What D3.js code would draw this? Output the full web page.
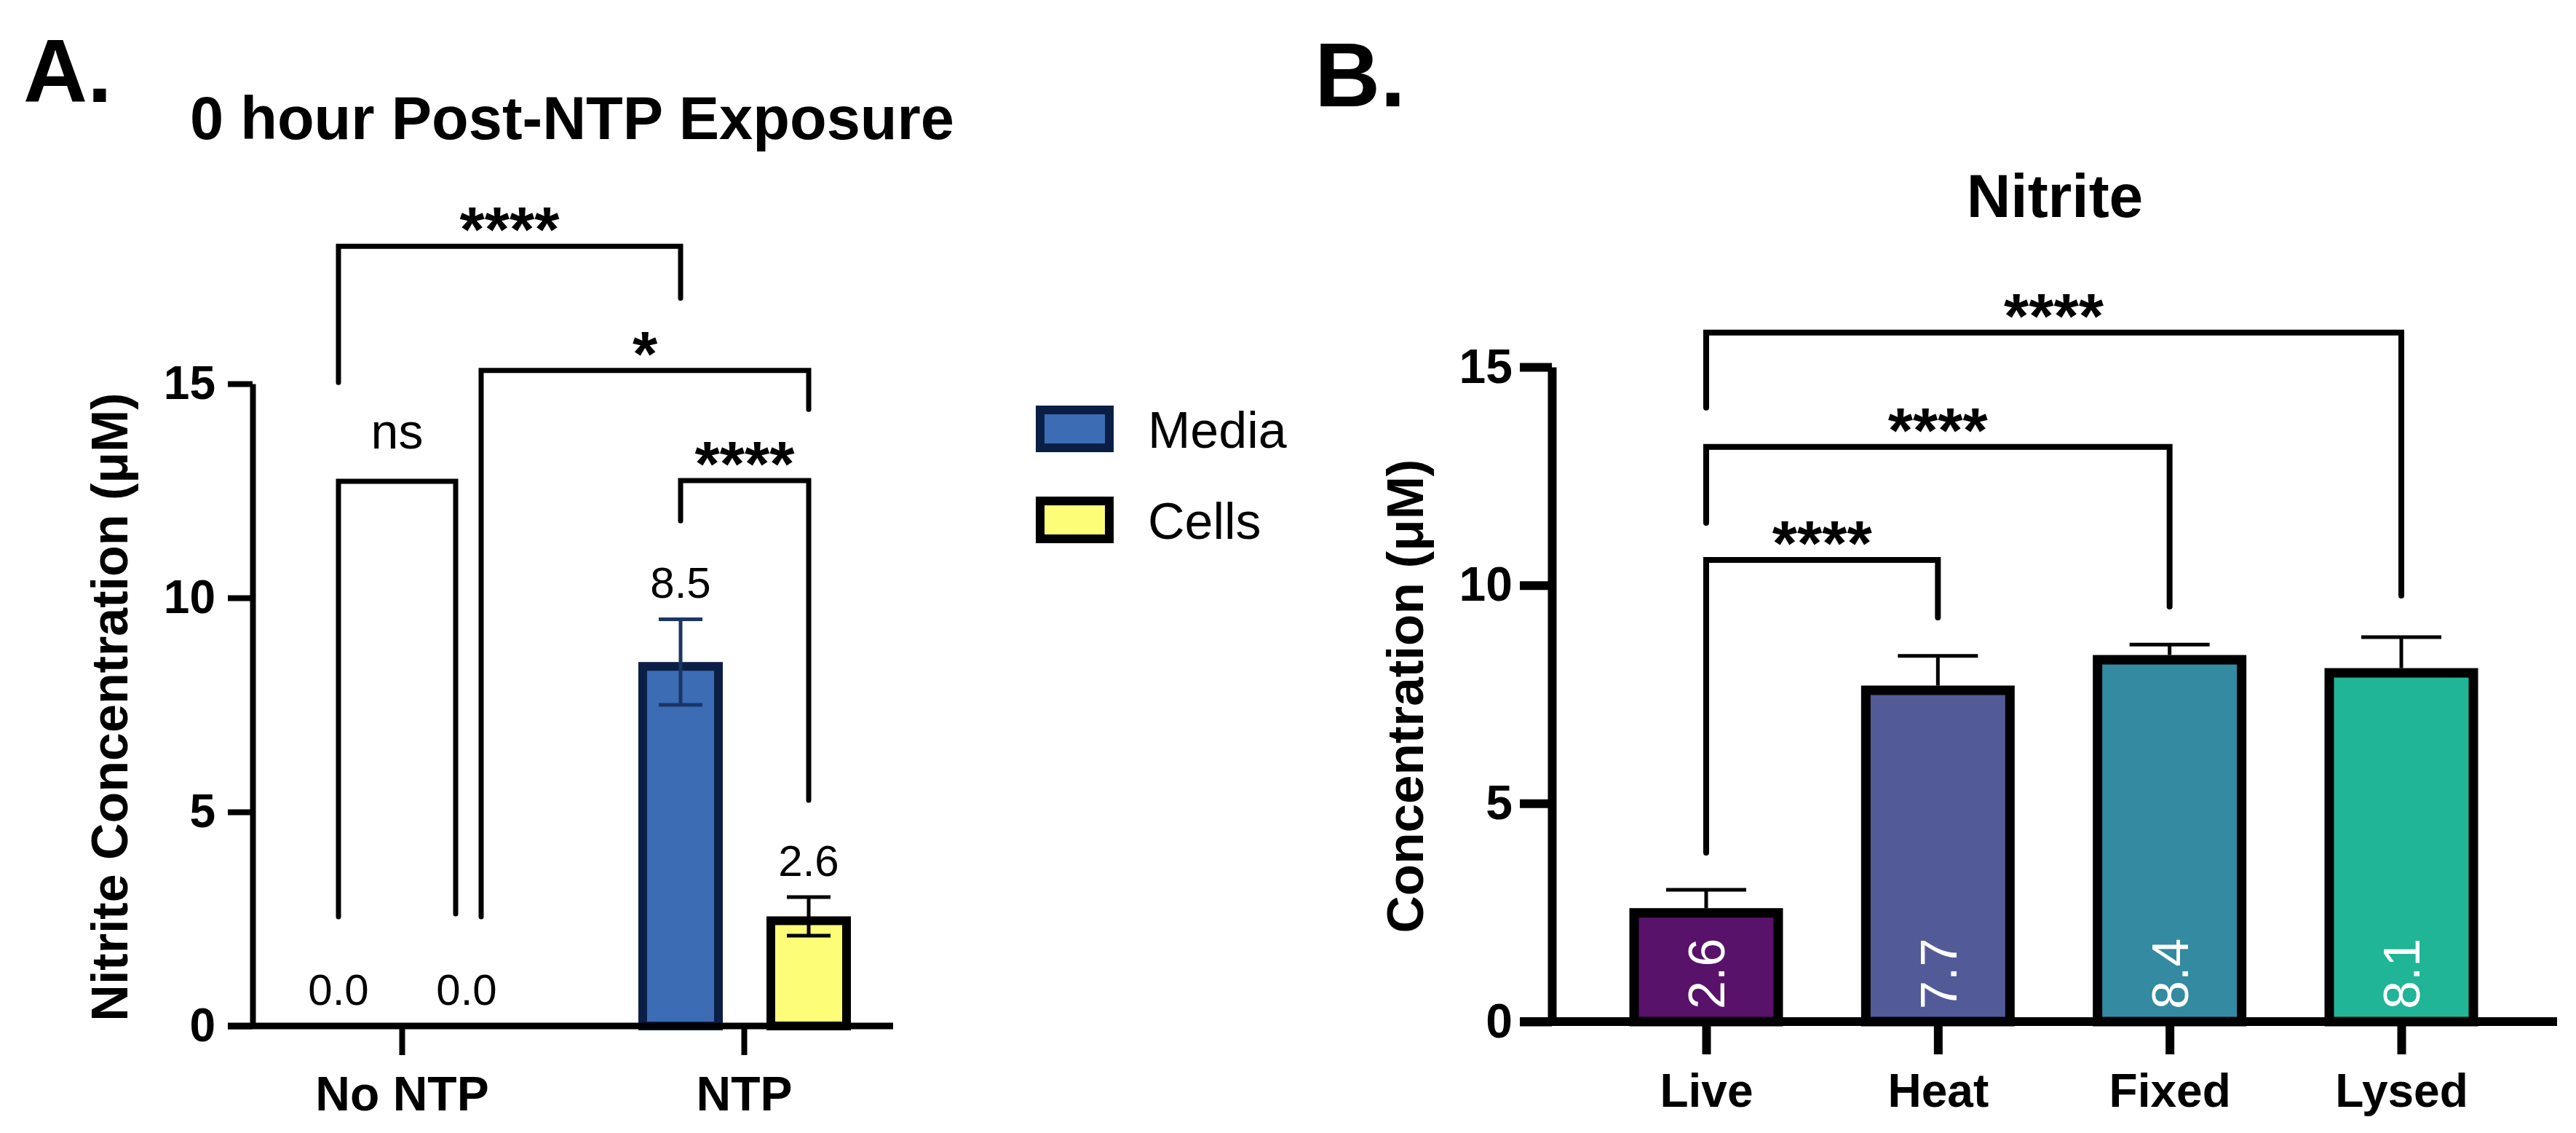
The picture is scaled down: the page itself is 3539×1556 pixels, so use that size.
<!DOCTYPE html>
<html>
<head>
<meta charset="utf-8">
<script src="https://cdn.jsdelivr.net/npm/d3@7"></script>
<style>
body { margin: 0; background: #fff; }
text { font-family: 'Liberation Sans', Arial, Helvetica, sans-serif; }
</style>
</head>
<body>
<div id="chart"></div>
<script>
// ---- panel A data ----
const groupsA = ["No NTP", "NTP"]
const seriesA = ["Media", "Cells"]
const mediaMean = [0.0, 8.5]
const mediaSD = [0, 1.0]
const cellsMean = [0.0, 2.56]
const cellsSD = [0, 0.45]
const ticksA = [0, 5, 10, 15]

// ---- panel B data ----
const catsB = ["Live", "Heat", "Fixed", "Lysed"]
const meanB = [2.6, 7.7, 8.4, 8.1]
const sdB = [0.42, 0.68, 0.24, 0.71]
const ticksB = [0, 5, 10, 15]

// significance brackets (level / ends in data units)
const sigA = [
  {a: ["No NTP", "Media", 0], b: ["NTP", "Media", 0], level: 18.21, endA: 15.03, endB: 17.0, label: "****"},
  {a: ["No NTP", "Cells", 20], b: ["NTP", "Cells", 0], level: 15.31, endA: 2.55, endB: 14.4, label: "*"},
  {a: ["No NTP", "Media", 0], b: ["No NTP", "Cells", -15], level: 12.72, endA: 2.55, endB: 2.62, label: "ns"},
  {a: ["NTP", "Media", 0], b: ["NTP", "Cells", 0], level: 12.74, endA: 11.8, endB: 5.27, label: "****"}
]
const sigB = [
  {a: "Live", b: "Heat", level: 10.58, endA: 3.87, endB: 9.26, label: "****"},
  {a: "Live", b: "Fixed", level: 13.17, endA: 11.43, endB: 9.51, label: "****"},
  {a: "Live", b: "Lysed", level: 15.79, endA: 14.07, endB: 9.76, label: "****"}
]

const colorsA = {Media: "#3c6cb4", Cells: "#fefd78"}
const strokeA = {Media: "#0b1f46", Cells: "#000"}
const colorsB = ["#58126a", "#535a98", "#348aa0", "#20b596"]

const W = 3539, H = 1556
const svg = d3.select("#chart").append("svg").attr("width", W).attr("height", H)

function styleAxis(g, sw, fs, bold) {
  g.select(".domain").attr("stroke", "#000").attr("stroke-width", sw)
  g.selectAll(".tick line").attr("stroke", "#000").attr("stroke-width", sw)
  g.selectAll(".tick text").attr("fill", "#000").style("font-size", fs + "px")
    .style("font-weight", bold ? "bold" : "normal")
    .style("font-family", "'Liberation Sans', Arial, sans-serif")
}

function bracket(g, xa, xb, yl, ya, yb, sw) {
  g.append("path")
    .attr("d", `M${xa},${ya} V${yl} H${xb} V${yb}`)
    .attr("fill", "none").attr("stroke", "#000").attr("stroke-width", sw)
    .attr("stroke-linejoin", "miter").attr("stroke-linecap", "round")
}

function sigText(g, x, yLine, label) {
  if (label === "ns") {
    g.append("text").attr("x", x).attr("y", yLine - 45).attr("text-anchor", "middle")
      .style("font-size", "68px").text(label)
  } else {
    // asterisk glyph centre sits about 0.58em above baseline
    g.append("text").attr("x", x).attr("y", yLine - 44 + 0.58 * 88).attr("text-anchor", "middle")
      .style("font-size", "88px").style("font-weight", "bold").text(label)
  }
}

// ================= PANEL A =================
const gA = svg.append("g")
const yA = d3.scaleLinear().domain([0, 15]).range([1409, 527])
const xA = d3.scalePoint().domain(groupsA).range([552, 1022])
const xSub = d3.scalePoint().domain(seriesA).range([-87, 89])
const posA = (grp, s) => xA(grp) + xSub(s)

gA.append("text").attr("x", 32).attr("y", 140).style("font-size", "122px").style("font-weight", "bold").text("A.")
gA.append("text").attr("x", 261).attr("y", 191).style("font-size", "83px").style("font-weight", "bold")
  .text("0 hour Post-NTP Exposure")

gA.append("text").attr("transform", "translate(175,971) rotate(-90)").attr("text-anchor", "middle")
  .style("font-size", "70px").style("font-weight", "bold").text("Nitrite Concentration (μM)")

const barsA = []
groupsA.forEach((grp, i) => {
  barsA.push({grp, s: "Media", m: mediaMean[i], sd: mediaSD[i]})
  barsA.push({grp, s: "Cells", m: cellsMean[i], sd: cellsSD[i]})
})
const swA = 12, bwA = 116
gA.selectAll("rect.bar").data(barsA.filter(d => d.m > 0)).enter().append("rect")
  .attr("class", "bar")
  .attr("x", d => posA(d.grp, d.s) - bwA / 2 + swA / 2)
  .attr("y", d => yA(d.m) + swA / 2)
  .attr("width", bwA - swA)
  .attr("height", d => yA(0) - yA(d.m) - swA / 2)
  .attr("fill", d => colorsA[d.s]).attr("stroke", d => strokeA[d.s]).attr("stroke-width", swA)

const errA = gA.selectAll("g.err").data(barsA.filter(d => d.sd > 0)).enter().append("g")
  .attr("stroke", d => d.s === "Media" ? "#1b3564" : "#000").attr("stroke-width", 5)
errA.append("line").attr("x1", d => posA(d.grp, d.s)).attr("x2", d => posA(d.grp, d.s))
  .attr("y1", d => yA(d.m - d.sd)).attr("y2", d => yA(d.m + d.sd))
errA.append("line").attr("x1", d => posA(d.grp, d.s) - 30).attr("x2", d => posA(d.grp, d.s) + 30)
  .attr("y1", d => yA(d.m + d.sd)).attr("y2", d => yA(d.m + d.sd))
errA.append("line").attr("x1", d => posA(d.grp, d.s) - 30).attr("x2", d => posA(d.grp, d.s) + 30)
  .attr("y1", d => yA(d.m - d.sd)).attr("y2", d => yA(d.m - d.sd))

gA.selectAll("text.val").data(barsA).enter().append("text")
  .attr("x", d => posA(d.grp, d.s)).attr("y", d => yA(d.m + d.sd) - 29)
  .attr("text-anchor", "middle").style("font-size", "60px").text(d => d.m.toFixed(1))

const yAxisA = gA.append("g").attr("transform", "translate(347,0)")
  .call(d3.axisLeft(yA).tickValues(ticksA).tickSize(34).tickSizeOuter(0).tickPadding(17))
styleAxis(yAxisA, 8, 64, true)

const xAxisA = gA.append("g").attr("transform", `translate(0,${yA(0)})`)
  .call(d3.axisBottom(xA).tickSize(40).tickSizeOuter(0).tickPadding(29))
styleAxis(xAxisA, 8, 66, true)
xAxisA.select(".domain").remove()
xAxisA.append("line").attr("x1", 313).attr("x2", 1227).attr("stroke", "#000").attr("stroke-width", 9)

sigA.forEach(s => {
  const xa = posA(s.a[0], s.a[1]) + s.a[2]
  const xb = posA(s.b[0], s.b[1]) + s.b[2]
  bracket(gA, xa, xb, yA(s.level), yA(s.endA), yA(s.endB), 7)
  sigText(gA, (xa + xb) / 2, yA(s.level), s.label)
})

// legend
const leg = gA.selectAll("g.leg").data(seriesA).enter().append("g")
  .attr("transform", (d, i) => `translate(1423,${557 + i * 125})`)
leg.append("rect").attr("x", 6).attr("y", 6).attr("width", 95).attr("height", 52)
  .attr("fill", d => colorsA[d]).attr("stroke", d => strokeA[d]).attr("stroke-width", 12)
leg.append("text").attr("x", 154).attr("y", 58).style("font-size", "70px").text(d => d)

// ================= PANEL B =================
const gB = svg.append("g")
const yB = d3.scaleLinear().domain([0, 15]).range([1403, 504])
const xB = d3.scalePoint().domain(catsB).range([2344, 3299])

gB.append("text").attr("x", 1806).attr("y", 146).style("font-size", "125px").style("font-weight", "bold").text("B.")
gB.append("text").attr("x", 2823).attr("y", 298).attr("text-anchor", "middle")
  .style("font-size", "84px").style("font-weight", "bold").text("Nitrite")
gB.append("text").attr("transform", "translate(1955,956) rotate(-90)").attr("text-anchor", "middle")
  .style("font-size", "71px").style("font-weight", "bold").text("Concentration (μM)")

const dataB = catsB.map((c, i) => ({c, m: meanB[i], sd: sdB[i], col: colorsB[i]}))
const swB = 13, bwB = 211

const errB = gB.selectAll("g.err").data(dataB).enter().append("g").attr("stroke", "#000").attr("stroke-width", 5)
errB.append("line").attr("x1", d => xB(d.c)).attr("x2", d => xB(d.c))
  .attr("y1", d => yB(d.m)).attr("y2", d => yB(d.m + d.sd))
errB.append("line").attr("x1", d => xB(d.c) - 55).attr("x2", d => xB(d.c) + 55)
  .attr("y1", d => yB(d.m + d.sd)).attr("y2", d => yB(d.m + d.sd))

gB.selectAll("rect.bar").data(dataB).enter().append("rect")
  .attr("x", d => xB(d.c) - bwB / 2 + swB / 2)
  .attr("y", d => yB(d.m) + swB / 2)
  .attr("width", bwB - swB)
  .attr("height", d => yB(0) - yB(d.m) - swB / 2)
  .attr("fill", d => d.col).attr("stroke", "#000").attr("stroke-width", swB)

gB.selectAll("text.val").data(dataB).enter().append("text")
  .attr("transform", d => `translate(${xB(d.c)},${yB(0) - 17}) rotate(-90)`)
  .attr("dy", "0.36em").attr("fill", "#fff").style("font-size", "70px").text(d => d.m.toFixed(1))

const yAxisB = gB.append("g").attr("transform", "translate(2132,0)")
  .call(d3.axisLeft(yB).tickValues(ticksB).tickSize(44).tickSizeOuter(0).tickPadding(10))
styleAxis(yAxisB, 12, 66, true)

const xAxisB = gB.append("g").attr("transform", `translate(0,${yB(0)})`)
  .call(d3.axisBottom(xB).tickSize(45).tickSizeOuter(0).tickPadding(27))
styleAxis(xAxisB, 12, 64, true)
xAxisB.select(".domain").remove()
xAxisB.append("line").attr("x1", 2088).attr("x2", 3513).attr("stroke", "#000").attr("stroke-width", 12)

sigB.forEach(s => {
  const xa = xB(s.a), xb = xB(s.b)
  bracket(gB, xa, xb, yB(s.level), yB(s.endA), yB(s.endB), 8)
  sigText(gB, (xa + xb) / 2, yB(s.level), s.label)
})
</script>
</body>
</html>
